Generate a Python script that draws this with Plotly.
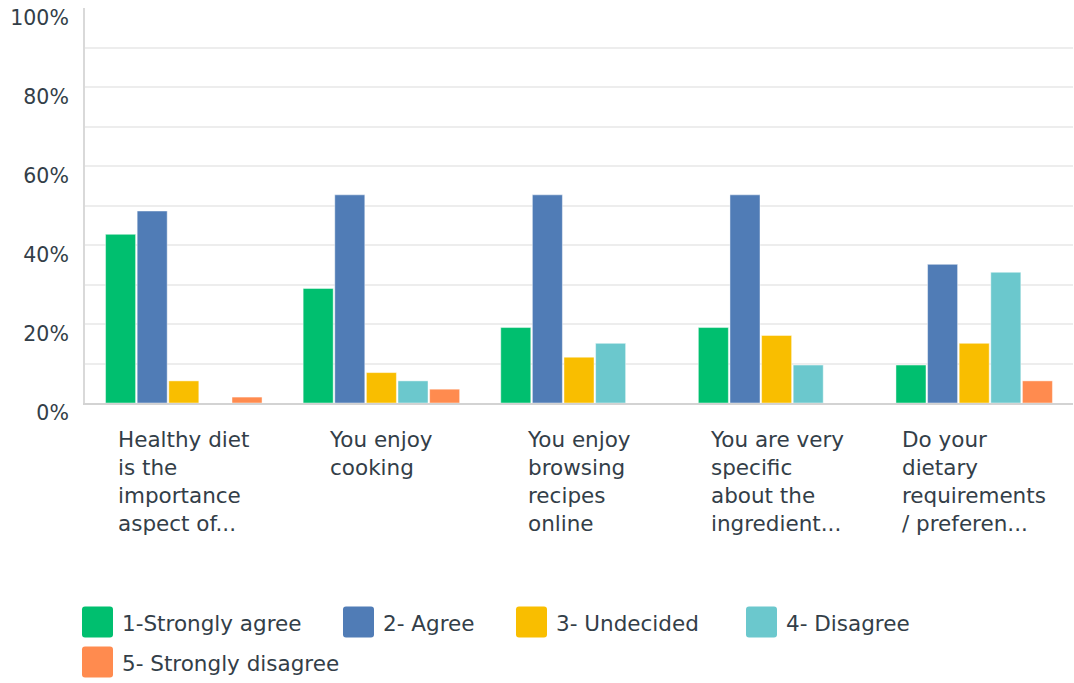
import plotly.graph_objects as go

# Survey statements (category labels, line-broken as displayed)
categories = [
    "Healthy diet<br>is the<br>importance<br>aspect of...",
    "You enjoy<br>cooking",
    "You enjoy<br>browsing<br>recipes<br>online",
    "You are very<br>specific<br>about the<br>ingredient...",
    "Do your<br>dietary<br>requirements<br>/ preferen...",
]

series_names = ["1-Strongly agree", "2- Agree", "3- Undecided", "4- Disagree", "5- Strongly disagree"]

# Percent of respondents per answer, one list per answer option
strongly_agree = [42.7, 29.0, 19.1, 19.1, 9.6]
agree = [48.6, 52.7, 52.7, 52.7, 35.1]
undecided = [5.6, 7.7, 11.6, 17.1, 15.1]
disagree = [0, 5.6, 15.1, 9.6, 33.1]
strongly_disagree = [1.5, 3.5, 0, 0, 5.6]

y_tick_vals = [0, 20, 40, 60, 80, 100]
y_tick_text = ["0%", "20%", "40%", "60%", "80%", "100%"]
grid_vals = [10, 20, 30, 40, 50, 60, 70, 80, 90]

colors = ["#00BF6F", "#507CB6", "#F9BE00", "#6BC8CD", "#FF8B4F"]
all_series = [strongly_agree, agree, undecided, disagree, strongly_disagree]

FONT = "DejaVu Sans"
TICK_SIZE = 20.5
LABEL_SIZE = 21.5
TEXT_COLOR = "#333e48"
W, H = 1074, 683
L, R, T, B = 85, 1, 8, 280
PW, PH = W - L - R, H - T - B

x_idx = list(range(len(categories)))

fig = go.Figure()
for name, vals, col in zip(series_names, all_series, colors):
    fig.add_trace(go.Bar(
        x=x_idx, y=vals, name=name,
        marker=dict(color=col, line=dict(color="rgba(255,255,255,0.45)", width=1)),
        showlegend=False, yaxis="y",
    ))


def px_to_paper(px, py):
    return (px - L) / PW, (T + PH - py) / PH


def rounded_rect(x0, y0, x1, y1, r):
    # rectangle with rounded corners, given in pixels, returned as a paper-space path
    def p(x, y):
        a, b = px_to_paper(x, y)
        return f"{a:.5f},{b:.5f}"
    return (
        f"M {p(x0 + r, y0)} L {p(x1 - r, y0)} Q {p(x1, y0)} {p(x1, y0 + r)} "
        f"L {p(x1, y1 - r)} Q {p(x1, y1)} {p(x1 - r, y1)} "
        f"L {p(x0 + r, y1)} Q {p(x0, y1)} {p(x0, y1 - r)} "
        f"L {p(x0, y0 + r)} Q {p(x0, y0)} {p(x0 + r, y0)} Z"
    )


# legend: swatch left edge and row centre, in pixels
legend_pos = [(82, 622), (343, 622), (516, 622), (746, 622), (82, 662)]
shapes = []
annotations = []
for (sx, cy), name, col in zip(legend_pos, series_names, colors):
    shapes.append(dict(type="path", xref="paper", yref="paper",
                       path=rounded_rect(sx, cy - 15.5, sx + 31, cy + 15.5, 3),
                       fillcolor=col, line=dict(width=0), layer="above"))
    ax, ay = px_to_paper(sx + 38, cy + 1)
    annotations.append(dict(xref="paper", yref="paper", x=ax, y=ay, text=name,
                            xanchor="left", yanchor="middle", showarrow=False,
                            font=dict(family=FONT, size=LABEL_SIZE, color=TEXT_COLOR)))

# category labels: centred blocks with left-aligned lines
_, label_y = px_to_paper(0, 425)
for i, cat in zip(x_idx, categories):
    annotations.append(dict(xref="x", yref="paper", x=i, y=label_y, text=cat,
                            xanchor="center", yanchor="top", align="left",
                            showarrow=False,
                            font=dict(family=FONT, size=LABEL_SIZE, color=TEXT_COLOR)))

fig.update_layout(
    width=W, height=H,
    margin=dict(l=L, r=R, t=T, b=B, pad=0),
    paper_bgcolor="white", plot_bgcolor="white",
    barmode="group", bargap=0.2, bargroupgap=0.05,
    font=dict(family=FONT, size=TICK_SIZE, color=TEXT_COLOR),
    xaxis=dict(range=[-0.5, len(categories) - 0.5], showticklabels=False, showgrid=False,
               zeroline=False, showline=True, linecolor="#d3d3d3", linewidth=2, ticks=""),
    yaxis=dict(range=[0, 100], tickvals=y_tick_vals, ticktext=y_tick_text, showgrid=False,
               zeroline=False, showline=True, linecolor="#d9d9d9", linewidth=2, ticks="",
               ticklabelshift=10, ticklabelstandoff=10,
               tickfont=dict(family=FONT, size=TICK_SIZE, color=TEXT_COLOR)),
    yaxis2=dict(range=[0, 100], overlaying="y", tickvals=grid_vals, showticklabels=False,
                showgrid=True, gridcolor="#ededed", gridwidth=2, zeroline=False,
                showline=False, ticks=""),
    shapes=shapes,
    annotations=annotations,
)
# attach an invisible trace to the grid axis so it renders
fig.add_trace(go.Bar(x=[0], y=[0], yaxis="y2", showlegend=False, hoverinfo="skip",
                     marker=dict(color="rgba(0,0,0,0)"), width=0.0001))

fig.write_html("out.html")
